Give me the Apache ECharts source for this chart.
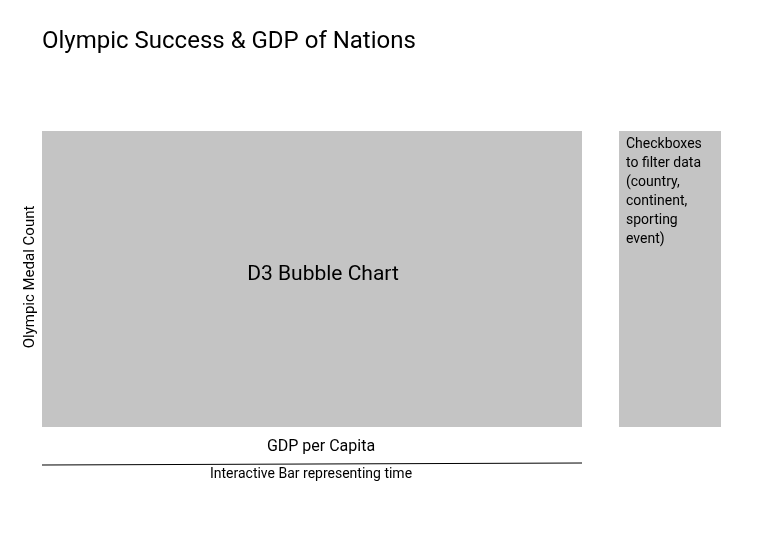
<!DOCTYPE html>
<html>
<head>
<meta charset="utf-8">
<script src="https://cdn.jsdelivr.net/npm/echarts@6/dist/echarts.min.js"></script>
<style>html,body{margin:0;padding:0;background:#fff}#chart{width:758px;height:559px}</style>
</head>
<body>
<div id="chart"></div>
<script>
const TITLE = "Olympic Success & GDP of Nations";
const PLOT_LABEL = "D3 Bubble Chart";
const Y_LABEL = "Olympic Medal Count";
const X_LABEL = "GDP per Capita";
const TIME_LABEL = "Interactive Bar representing time";
const FILTER_LINES = ["Checkboxes", "to filter data", "(country,", "continent,", "sporting", "event)"];

const FONT = "Roboto";
const GRAY = "#c4c4c4";

const chart = echarts.init(document.getElementById("chart"), null, { renderer: "canvas" });
chart.setOption({
  animation: false,
  graphic: [
    { type: "text", left: 42, top: 30, style: { text: TITLE, font: "24px " + FONT, fill: "#000" } },
    { type: "rect", shape: { x: 42, y: 131, width: 540, height: 296 }, style: { fill: GRAY } },
    { type: "text", x: 323, y: 275, style: { text: PLOT_LABEL, font: "21px " + FONT, fill: "#000", align: "center", verticalAlign: "middle" } },
    { type: "text", x: 30, y: 277, rotation: Math.PI / 2, style: { text: Y_LABEL, font: "15px " + FONT, fill: "#000", align: "center", verticalAlign: "middle" } },
    { type: "text", x: 321, y: 447, style: { text: X_LABEL, font: "16px " + FONT, fill: "#000", align: "center", verticalAlign: "middle" } },
    { type: "line", shape: { x1: 42, y1: 465, x2: 582, y2: 463 }, style: { stroke: "#000", lineWidth: 1 } },
    { type: "text", x: 311, y: 474, style: { text: TIME_LABEL, font: "14px " + FONT, fill: "#000", align: "center", verticalAlign: "middle" } },
    { type: "rect", shape: { x: 619, y: 131, width: 102, height: 296 }, style: { fill: GRAY } },
    { type: "text", left: 626, top: 135, style: { text: FILTER_LINES.join("\n"), font: "14px " + FONT, lineHeight: 19, fill: "#000" } }
  ]
});
</script>
</body>
</html>
